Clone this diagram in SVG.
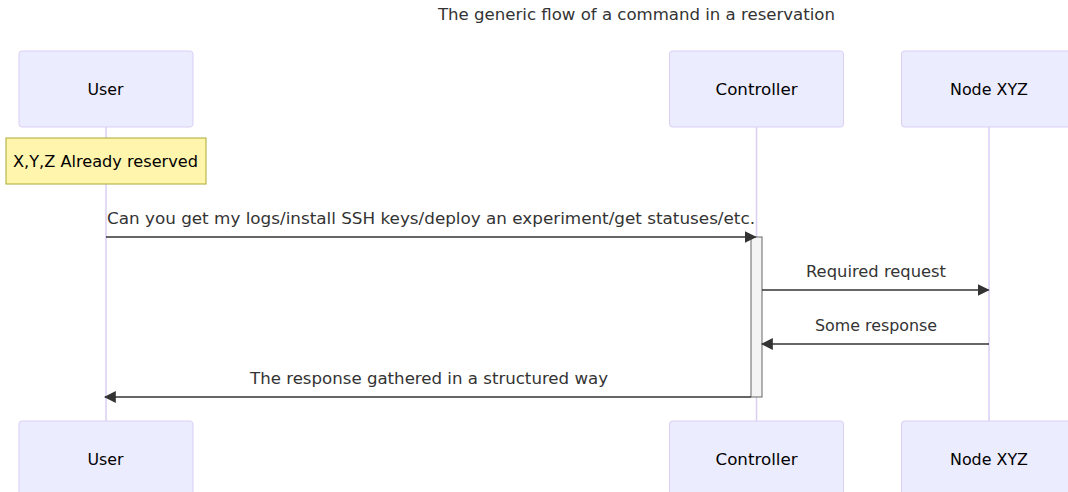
<svg xmlns="http://www.w3.org/2000/svg" width="1068" height="492" viewBox="0 0 1068 492">
<style>
text{font-family:"DejaVu Sans",sans-serif;font-size:16px;}
.actor{fill:#ECECFF;stroke:#DACEF3;stroke-width:1;}
.actorText{fill:#000;text-anchor:middle;dominant-baseline:central;}
.life{stroke:#DACEF3;stroke-width:1.5;fill:none;}
.msg{stroke:#333;stroke-width:1.5;fill:none;}
.msgText{fill:#333;text-anchor:middle;}
.note{fill:#fff5ad;stroke:#aaaa33;stroke-width:1;}
.noteText{fill:#000;text-anchor:middle;dominant-baseline:central;}
.act{fill:#f4f4f4;stroke:#666;stroke-width:1;}
.title{fill:#333;text-anchor:middle;}
</style>
<defs>
<marker id="arrow" viewBox="0 0 10 10" refX="9" refY="5" markerUnits="userSpaceOnUse" markerWidth="12" markerHeight="12" orient="auto">
<path d="M0,0 L10,5 L0,10 z" fill="#333"/>
</marker>
</defs>
<rect width="1068" height="492" fill="#fff"/>
<text class="title" x="636.5" y="20" textLength="397" lengthAdjust="spacingAndGlyphs">The generic flow of a command in a reservation</text>
<g id="lifelines">
<line class="life" x1="106" y1="127" x2="106" y2="421"/>
<line class="life" x1="756.5" y1="127" x2="756.5" y2="421"/>
<line class="life" x1="989" y1="127" x2="989" y2="421"/>
</g>
<g id="user-top"><rect class="actor" x="19" y="51" width="174" height="76" rx="3"/><text class="actorText" x="105.5" y="89" textLength="36" lengthAdjust="spacingAndGlyphs">User</text></g>
<g id="controller-top"><rect class="actor" x="669.5" y="51" width="174" height="76" rx="3"/><text class="actorText" x="756.5" y="89" textLength="82" lengthAdjust="spacingAndGlyphs">Controller</text></g>
<g id="node-top"><rect class="actor" x="901.5" y="51" width="174" height="76" rx="3"/><text class="actorText" x="989" y="89" textLength="78" lengthAdjust="spacingAndGlyphs">Node XYZ</text></g>
<g id="user-bottom"><rect class="actor" x="19" y="421" width="174" height="76" rx="3"/><text class="actorText" x="105.5" y="459" textLength="36" lengthAdjust="spacingAndGlyphs">User</text></g>
<g id="controller-bottom"><rect class="actor" x="669.5" y="421" width="174" height="76" rx="3"/><text class="actorText" x="756.5" y="459" textLength="82" lengthAdjust="spacingAndGlyphs">Controller</text></g>
<g id="node-bottom"><rect class="actor" x="901.5" y="421" width="174" height="76" rx="3"/><text class="actorText" x="989" y="459" textLength="78" lengthAdjust="spacingAndGlyphs">Node XYZ</text></g>
<g id="note"><rect class="note" x="6" y="138" width="200" height="46"/><text class="noteText" x="105.5" y="161" textLength="185" lengthAdjust="spacingAndGlyphs">X,Y,Z Already reserved</text></g>
<g id="activation"><rect class="act" x="751" y="237" width="11" height="160"/></g>
<g id="connectors">
<line class="msg" x1="106" y1="237" x2="755.5" y2="237" marker-end="url(#arrow)"/>
<line class="msg" x1="762" y1="290" x2="988.5" y2="290" marker-end="url(#arrow)"/>
<line class="msg" x1="989" y1="344" x2="762" y2="344" marker-end="url(#arrow)"/>
<line class="msg" x1="751" y1="397" x2="105" y2="397" marker-end="url(#arrow)"/>
</g>
<g id="labels">
<text class="msgText" x="431" y="224" textLength="648" lengthAdjust="spacingAndGlyphs">Can you get my logs/install SSH keys/deploy an experiment/get statuses/etc.</text>
<text class="msgText" x="876" y="277" textLength="140" lengthAdjust="spacingAndGlyphs">Required request</text>
<text class="msgText" x="876" y="331" textLength="122" lengthAdjust="spacingAndGlyphs">Some response</text>
<text class="msgText" x="429" y="384" textLength="358" lengthAdjust="spacingAndGlyphs">The response gathered in a structured way</text>
</g>
</svg>
